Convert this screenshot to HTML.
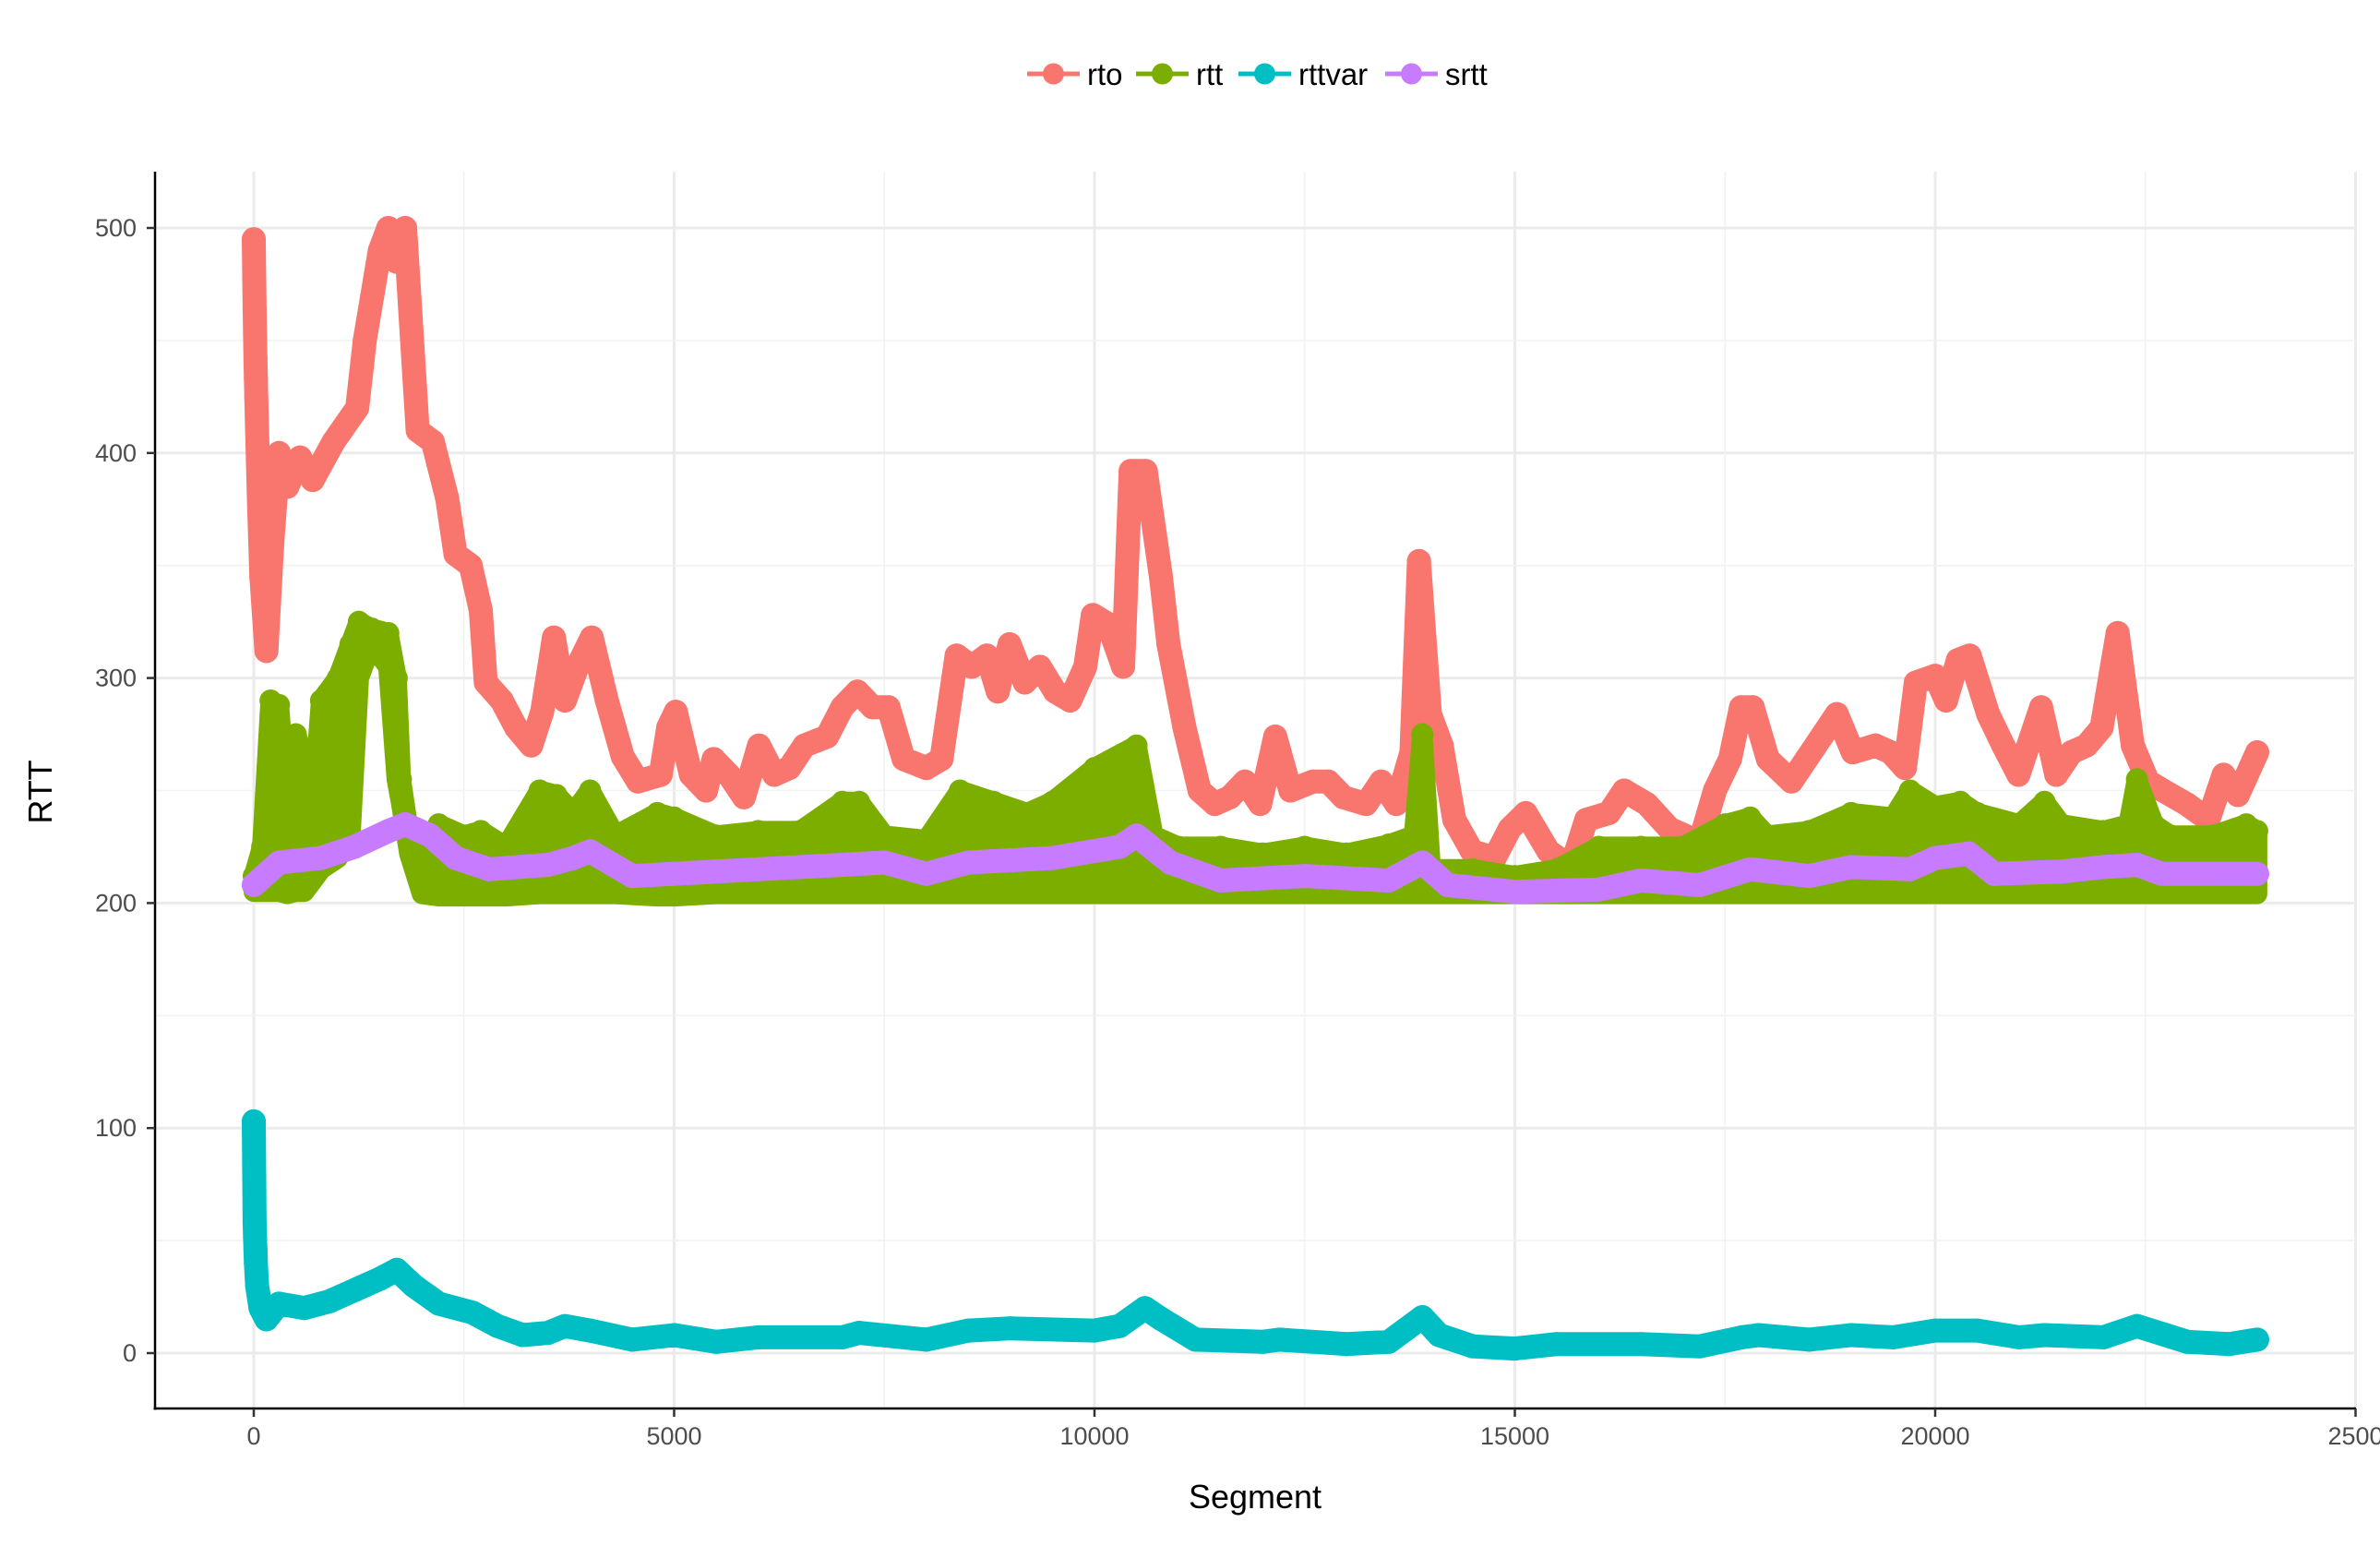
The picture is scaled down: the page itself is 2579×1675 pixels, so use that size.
<!DOCTYPE html>
<html><head><meta charset="utf-8"><style>
html,body{margin:0;padding:0;background:#fff;}
svg{display:block;font-family:"Liberation Sans",Arial,sans-serif;}
</style></head><body>
<svg id="chart" width="2579" height="1675" viewBox="0 0 2579 1675" xmlns="http://www.w3.org/2000/svg">
<g id="grid"></g>
<g id="series"></g>
<g id="axes"></g>
<g id="legend"></g>
<text x="1360" y="1634" font-size="36" text-anchor="middle" fill="#000">Segment</text>
<text transform="translate(56,858) rotate(-90)" font-size="36" text-anchor="middle" fill="#000">RTT</text>
</svg>
<script>
const xTicks=[0,5000,10000,15000,20000,25000];
const xTickLabels=["0","5000","10000","15000","20000","2500"];
const yTicks=[0,100,200,300,400,500];
const yTickLabels=["0","100","200","300","400","500"];

const rtoX=[0,5,10,15,20,25,30,40,60,90,150,220,300,400,550,700,950,1230,1320,1500,1600,1700,1800,1950,2130,2300,2400,2580,2700,2760,2950,3120,3300,3430,3570,3700,3850,4020,4200,4390,4570,4840,4930,5020,5200,5380,5470,5650,5830,6010,6190,6370,6550,6820,7000,7180,7360,7550,7730,8000,8180,8360,8540,8720,8850,8990,9170,9350,9530,9710,9890,9980,10160,10340,10430,10610,10790,10880,11070,11250,11430,11610,11790,11970,12150,12330,12600,12780,12960,13230,13410,13590,13770,13860,13990,14130,14280,14490,14760,14940,15130,15400,15670,15850,16120,16300,16570,16840,17200,17380,17560,17690,17830,18010,18290,18470,18650,18830,19020,19290,19470,19640,19770,20000,20130,20270,20410,20630,20810,20990,21260,21440,21620,21800,21980,22170,22350,22530,22710,22990,23250,23430,23600,23830];
const rtoV=[495,477,464,452,442,433,425,410,380,345,312,360,400,385,398,388,405,420,450,490,500,485,500,410,405,380,355,350,330,298,290,278,270,285,318,290,305,318,290,265,254,257,278,285,257,250,264,257,247,270,257,260,270,274,287,294,287,287,264,260,264,310,305,310,294,315,298,305,294,290,305,328,324,305,392,392,345,315,278,250,244,247,254,244,274,250,254,254,247,244,254,244,267,352,284,270,237,223,220,233,240,223,216,237,240,250,244,233,227,250,264,287,287,264,254,264,274,284,267,270,267,260,298,301,290,308,310,284,270,257,287,257,267,270,278,320,270,254,250,244,237,257,248,267];

const rttX=[0,100,200,300,400,500,600,700,800,1000,1150,1250,1400,1600,1700,1750,1850,2000,2200,2500,2700,3000,3400,3600,3800,4000,4300,4800,5000,5500,6000,6500,7000,7200,7500,8000,8400,8800,9200,9500,10000,10500,10700,11000,11500,12000,12500,13000,13500,13800,13900,14000,14500,15000,15500,16000,16500,17000,17500,17800,18000,18500,19000,19500,19700,20000,20300,20500,21000,21300,21500,22000,22300,22400,22600,22800,23300,23700,23830];
const rttHi=[212,225,290,288,240,275,265,240,290,300,315,325,322,320,300,255,230,222,235,230,232,225,250,248,240,250,230,240,238,230,232,232,245,245,230,228,250,245,240,245,260,270,230,225,225,222,225,222,226,230,275,215,215,212,215,225,225,225,235,238,230,232,240,238,250,243,245,240,235,245,235,232,235,255,235,230,230,235,232];
const rttLo=[205,205,205,205,204,205,205,210,215,220,230,300,315,305,255,245,222,204,203,203,203,203,204,204,204,204,204,203,203,204,204,204,204,204,204,204,204,204,204,204,204,204,204,204,204,204,204,204,204,204,204,204,204,204,204,204,204,204,204,204,204,204,204,204,204,204,204,204,204,204,204,204,204,204,204,204,204,204,204];

const srttX=[0,300,800,1200,1600,1800,2100,2400,2800,3500,3800,4000,4500,5000,6000,7000,7500,8000,8500,9500,10300,10500,10900,11500,12500,13500,13900,14200,15000,16000,16500,17200,17800,18500,19000,19700,20000,20400,20700,21500,22000,22400,22700,23500,23830];
const srttV=[208,218,220,225,232,235,230,220,215,217,220,223,212,213,215,217,218,213,218,220,225,230,218,210,212,210,218,208,205,206,210,208,215,212,216,215,220,222,213,214,216,217,213,213,213];

const varX=[0,5,10,15,20,25,40,80,150,300,600,900,1200,1500,1700,1900,2200,2600,2900,3200,3500,3700,4000,4500,5000,5500,6000,7000,7200,8000,8500,9000,10000,10300,10600,10800,11200,12000,12200,13000,13500,13900,14100,14500,15000,15500,16500,17200,17700,17900,18500,19000,19500,20000,20500,21000,21300,22000,22400,23000,23500,23830];
const varV=[103,78,58,51,46,40,30,20,15,22,20,23,28,33,37,30,22,18,12,8,9,12,10,6,8,5,7,7,9,6,10,11,10,12,20,15,6,5,6,4,5,16,8,3,2,4,4,3,7,8,6,8,7,10,10,7,8,7,12,5,4,6];

const PL=168,PR=2553,PT=186,PB=1526;
function sx(v){return 275+(v/5000)*455.5;}
function sy(v){return 1466-(v/100)*243.8;}
const NS='http://www.w3.org/2000/svg';
function mk(tag,attrs,parent){const e=document.createElementNS(NS,tag);for(const k in attrs)e.setAttribute(k,attrs[k]);parent.appendChild(e);return e;}

const grid=document.getElementById('grid');
for(let v=-2500;v<=25000;v+=2500){const x=sx(v);if(x<PL||x>PR)continue;const major=v%5000===0;
 const l=mk('line',{x1:x,x2:x,y1:PT,y2:PB,stroke:major?'#ebebeb':'#f2f2f2','stroke-width':major?3:1.6},grid);
 
 }
for(let v=0;v<=500;v+=50){const y=sy(v);const major=v%100===0;
 const l=mk('line',{x1:PL,x2:PR,y1:y,y2:y,stroke:major?'#ebebeb':'#f2f2f2','stroke-width':major?3:1.6},grid);
 
 }

const series=document.getElementById('series');
function pts(xs,vs){return xs.map((x,i)=>sx(x).toFixed(1)+','+sy(vs[i]).toFixed(1)).join(' ');}
function dots(xs,vs,col,name,g,r){xs.forEach((x,i)=>{const c=mk('circle',{cx:sx(x),cy:sy(vs[i]),r:r,fill:col},g);
 
 });}
function line(xs,vs,col,name){const g=mk('g',{},series);
 
 
 const p=mk('polyline',{points:pts(xs,vs),fill:'none',stroke:col,'stroke-width':26,'stroke-linejoin':'round','stroke-linecap':'round'},g);
 
 
 dots(xs,vs,col,name,g,13);}

line(rtoX,rtoV,'#f8766d','rto');
{const g=mk('g',{},series);
 
 
 let d='M'+rttX.map((x,i)=>sx(x).toFixed(1)+','+sy(rttHi[i]).toFixed(1)).join(' L');
 for(let i=rttX.length-1;i>=0;i--)d+=' L'+sx(rttX[i]).toFixed(1)+','+sy(rttLo[i]).toFixed(1);
 d+='Z';
 const p=mk('path',{d:d,fill:'#7cae00',stroke:'#7cae00','stroke-width':22,'stroke-linejoin':'round'},g);
 
 
 dots(rttX,rttHi,'#7cae00','rtt',g,12);}
line(varX,varV,'#00bfc4','rttvar');
line(srttX,srttV,'#c77cff','srtt');

const axes=document.getElementById('axes');
let a=mk('line',{x1:PL,x2:PL,y1:PT,y2:PB+1.5,stroke:'#000','stroke-width':2.5},axes);

a=mk('line',{x1:PL-1.5,x2:PR,y1:PB,y2:PB,stroke:'#000','stroke-width':2.5},axes);

xTicks.forEach((v,i)=>{const x=sx(v);
 const t=mk('line',{x1:x,x2:x,y1:PB,y2:PB+9,stroke:'#333','stroke-width':2.5},axes);
 
 const tx=mk('text',{x:x,y:PB+39,'font-size':27,'text-anchor':'middle',fill:'#4d4d4d'},axes);
 tx.textContent=xTickLabels[i];
 });
yTicks.forEach((v,i)=>{const y=sy(v);
 const t=mk('line',{x1:PL-9,x2:PL,y1:y,y2:y,stroke:'#333','stroke-width':2.5},axes);
 
 const tx=mk('text',{x:PL-20,y:y+9,'font-size':27,'text-anchor':'end',fill:'#4d4d4d'},axes);
 tx.textContent=yTickLabels[i];
 });

const legend=document.getElementById('legend');
const legNames=["rto","rtt","rttvar","srtt"];
const legCols=["#f8766d","#7cae00","#00bfc4","#c77cff"];
const legX=[1113,1231,1342,1501];
legNames.forEach((n,i)=>{const g=mk('g',{},legend);
 
 
 mk('line',{x1:legX[i],x2:legX[i]+57,y1:80,y2:80,stroke:legCols[i],'stroke-width':5},g);
 mk('circle',{cx:legX[i]+28.5,cy:80,r:11.5,fill:legCols[i]},g);
 const t=mk('text',{x:legX[i]+65,y:92,'font-size':33,fill:'#000'},g);t.textContent=n;});
</script>
</body></html>
